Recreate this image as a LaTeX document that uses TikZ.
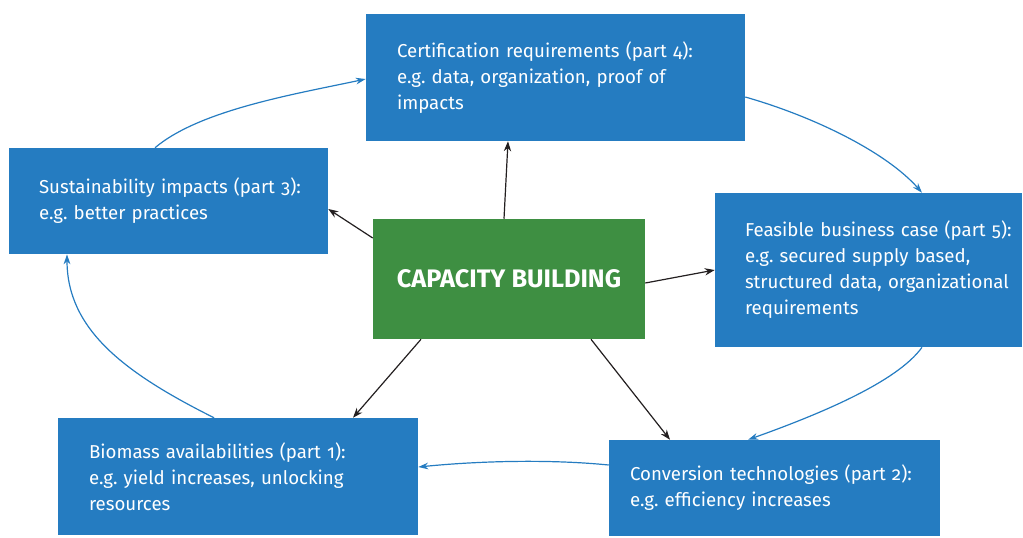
\documentclass[tikz,border=0pt]{standalone}
\usepackage{fontspec}
\setmainfont{Fira Sans}[Numbers=OldStyle]
\usepackage{tikz}
\usetikzlibrary{arrows.meta,calc}
\definecolor{boxblue}{RGB}{37,124,193}
\definecolor{capgreen}{RGB}{62,143,66}
\definecolor{arrowgray}{RGB}{35,31,32}
\newdimen\pxu \pxu=0.75pt
\frenchspacing
\hfuzz=100pt

\begin{document}
\begin{tikzpicture}[x=0.75pt, y=-0.75pt,
  box/.style={fill=boxblue, text=white, align=left, inner sep=0pt, font=\fontsize{14}{19.5}\selectfont},
  spoke/.style={draw=arrowgray, line width=0.9pt, -{Stealth[length=7.5pt, width=5.5pt]}},
  cycle/.style={draw=boxblue, line width=0.9pt, -{Stealth[length=7.5pt, width=5pt]}}]
  \useasboundingbox (0,0) rectangle (1023,537);

  % Boxes
  \node[box, minimum width=379\pxu, minimum height=127\pxu, text width=317\pxu] (cert) at (555.5,77.5)
    {Certification requirements (part 4):\\e.g. data, organization, proof of\\impacts};
  \node[box, minimum width=319\pxu, minimum height=106\pxu, text width=259\pxu] (sust) at (168.5,201)
    {\mbox{Sustainability impacts (part 3):}\\e.g. better practices};
  \node[box, minimum width=307\pxu, minimum height=154\pxu, text width=247\pxu] (feas) at (868.5,270)
    {\mbox{Feasible business case (part 5):}\\e.g. secured supply based,\\\mbox{structured data, organizational}\\requirements};
  \node[box, minimum width=360\pxu, minimum height=117\pxu, text width=298\pxu] (bio) at (238,476.5)
    {Biomass availabilities (part 1):\\e.g. yield increases, unlocking\\resources};
  \node[box, minimum width=331\pxu, minimum height=96\pxu, text width=289\pxu] (conv) at (774.5,488)
    {Conversion technologies (part 2):\\e.g. efficiency increases};

  % Centre
  \node[fill=capgreen, text=white, minimum width=272\pxu, minimum height=120\pxu, font=\fontsize{19}{22}\selectfont\bfseries] (cap) at (509,279) {CAPACITY BUILDING};

  % Spokes
  \draw[spoke] ($(cap.north)+(-5,0)$) -- ($(cert.south)+(-47.5,0)$);
  \draw[spoke] ($(cap.west)+(0,-41)$) -- ($(sust.east)+(0,8)$);
  \draw[spoke] ($(cap.east)+(0,4)$) -- (feas.west);
  \draw[spoke] ($(cap.south)+(-88,0)$) -- ($(bio.north)+(115,0)$);
  \draw[spoke] ($(cap.south)+(82,0)$) -- ($(conv.north)+(-104.5,0)$);

  % Cycle
  \draw[cycle] ($(bio.north)+(-24,0)$) .. controls +(-90,-45) and +(0,75) .. ($(sust.south)+(-101.5,0)$);
  \draw[cycle] ($(sust.north)+(-13.5,0)$) .. controls +(45,-38) and +(-70,15) .. ($(cert.west)+(0,1.5)$);
  \draw[cycle] ($(cert.east)+(0,19.5)$) .. controls +(70,20) and +(-35,-40) .. ($(feas.north)+(53.5,0)$);
  \draw[cycle] ($(feas.south)+(53.5,0)$) .. controls +(-25,35) and +(70,-25) .. ($(conv.north)+(-26.5,0)$);
  \draw[cycle] ($(conv.west)+(0,-23)$) .. controls +(-60,-6) and +(60,-6) .. ($(bio.east)+(0,-9.5)$);
\end{tikzpicture}
\end{document}
